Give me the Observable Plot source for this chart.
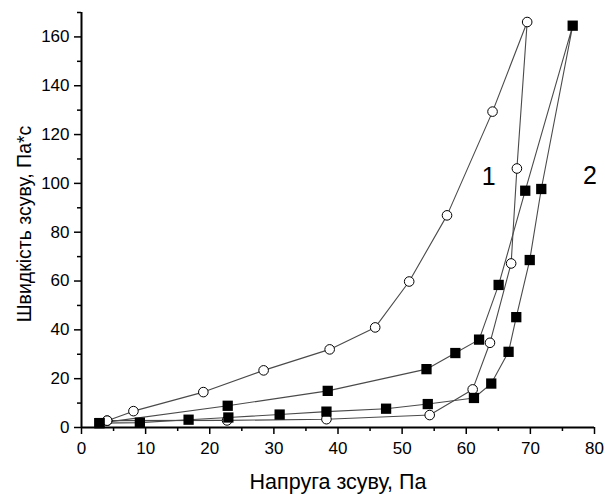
<!DOCTYPE html>
<html>
<head>
<meta charset="utf-8">
<script src="https://cdn.jsdelivr.net/npm/d3@7"></script>
<script src="https://cdn.jsdelivr.net/npm/@observablehq/plot@0.6"></script>
<style>
  html, body { margin: 0; padding: 0; background: #fff; }
</style>
</head>
<body>
<div id="chart"></div>
<script>
// Series 1 (open circles): loop, up-branch then down-branch
const s1x = [4.0, 8.1, 19.0, 28.4, 38.7, 45.8, 51.1, 57.0, 64.1, 69.5, 67.9, 67.0, 63.7, 61.0, 54.3, 38.2, 22.7, 4.0];
const s1y = [2.8, 6.7, 14.5, 23.4, 32.0, 41.0, 59.8, 86.9, 129.4, 166.1, 106.1, 67.2, 34.7, 15.6, 5.1, 3.4, 2.9, 2.8];
// Series 2 (filled squares)
const s2x = [2.8, 22.8, 38.4, 53.8, 58.3, 62.0, 65.05, 69.2, 76.6, 71.7, 69.9, 67.8, 66.6, 63.9, 61.2, 54.0, 47.5, 38.2, 30.9, 22.9, 16.7, 9.1, 2.8];
const s2y = [1.8, 8.9, 15.0, 23.9, 30.5, 36.0, 58.4, 97.0, 164.6, 97.7, 68.6, 45.2, 31.0, 18.0, 12.1, 9.6, 7.7, 6.5, 5.3, 4.1, 3.2, 2.0, 1.8];

const xTicks = [0, 10, 20, 30, 40, 50, 60, 70, 80];
const xMinor = [5, 15, 25, 35, 45, 55, 65, 75];
const yTicks = [0, 20, 40, 60, 80, 100, 120, 140, 160];
const yMinor = [10, 30, 50, 70, 90, 110, 130, 150, 170];

const seriesLabels = ["1", "2"];
const labelX = [63.5, 79.3];
const labelY = [102.5, 103.2];

const xTitle = "Напруга зсуву, Па";
const yTitle = "Швидкість зсуву, Па*с";

const d1 = s1x.map((x, i) => ({x, y: s1y[i]}));
const d2 = s2x.map((x, i) => ({x, y: s2y[i]}));
const lab = seriesLabels.map((t, i) => ({t, x: labelX[i], y: labelY[i]}));

const chart = Plot.plot({
  width: 605,
  height: 494,
  marginLeft: 81,
  marginRight: 11,
  marginTop: 12,
  marginBottom: 67,
  style: {fontFamily: "'Liberation Sans', Arial, sans-serif", fontSize: "17px", color: "black", background: "white"},
  x: {domain: [0, 80]},
  y: {domain: [0, 170]},
  marks: [
    Plot.line(d1, {x: "x", y: "y", stroke: "#4a4a4a", strokeWidth: 1.1}),
    Plot.line(d2, {x: "x", y: "y", stroke: "#4a4a4a", strokeWidth: 1.1}),
    Plot.dot(d1, {x: "x", y: "y", r: 4.8, fill: "white", stroke: "black", strokeWidth: 1}),
    Plot.dot(d2, {x: "x", y: "y", r: 5.8, symbol: "square", fill: "black", stroke: "none"}),
    Plot.ruleX([0], {stroke: "black", strokeWidth: 2}),
    Plot.ruleY([0], {stroke: "black", strokeWidth: 2}),
    Plot.axisX({ticks: xTicks, tickSize: 7, tickPadding: 7, label: null, stroke: "black", strokeWidth: 1.5, fill: "black", fontSize: 17}),
    Plot.axisX({ticks: xMinor, tickSize: 4, text: null, label: null, stroke: "black", strokeWidth: 1.5}),
    Plot.axisY({ticks: yTicks, tickSize: 7, tickPadding: 5, label: null, stroke: "black", strokeWidth: 1.5, fill: "black", fontSize: 17}),
    Plot.axisY({ticks: yMinor, tickSize: 4, text: null, label: null, stroke: "black", strokeWidth: 1.5}),
    Plot.text(lab, {x: "x", y: "y", text: "t", fontSize: 25, fill: "black"}),
    Plot.text([xTitle], {frameAnchor: "bottom", dy: 55, fontSize: 21.5, fill: "black", textAnchor: "middle", lineAnchor: "middle"}),
    Plot.text([yTitle], {frameAnchor: "left", dx: -57, dy: 4, rotate: -90, fontSize: 19.5, fill: "black", textAnchor: "middle", lineAnchor: "middle"})
  ]
});
document.getElementById("chart").appendChild(chart);
</script>
</body>
</html>
